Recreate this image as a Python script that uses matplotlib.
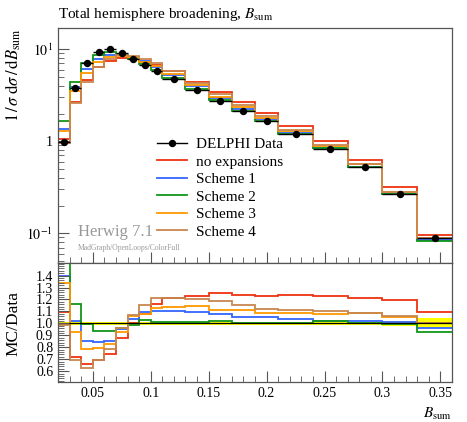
import numpy as np
import matplotlib
matplotlib.use("Agg")
import matplotlib.pyplot as plt
from matplotlib.ticker import MultipleLocator, FixedLocator, NullFormatter, LogLocator
from matplotlib.lines import Line2D

plt.rcParams['font.family'] = ['Liberation Serif', 'DejaVu Serif']
plt.rcParams['mathtext.fontset'] = 'stix'

# ---- data ----
edges = [0.02, 0.03, 0.04, 0.05, 0.06, 0.07, 0.08, 0.09, 0.10, 0.11, 0.13,
         0.15, 0.17, 0.19, 0.21, 0.24, 0.27, 0.30, 0.33, 0.36]
data = [0.97, 3.77, 7.05, 9.27, 10.0, 9.1, 7.85, 6.75, 5.8, 4.78, 3.6,
        2.72, 2.14, 1.66, 1.19, 0.82, 0.52, 0.265, 0.088]
data_relerr = [0.015, 0.015, 0.012, 0.012, 0.012, 0.012, 0.012, 0.012, 0.012, 0.012,
               0.012, 0.012, 0.012, 0.012, 0.012, 0.013, 0.015, 0.018, 0.042]

ratio_noexp = [1.094, 0.715, 0.66, 0.695, 0.745, 0.88, 1.0, 1.08, 1.16, 1.21, 1.233,
               1.253, 1.241, 1.23, 1.24, 1.233, 1.216, 1.199, 1.097]
ratio_s1 = [1.40, 1.023, 0.855, 0.845, 0.855, 0.955, 1.04, 1.096, 1.10, 1.10, 1.094,
            1.077, 1.057, 1.057, 1.034, 1.02, 1.017, 1.015, 0.962]
ratio_s2 = [1.71, 1.162, 0.995, 0.935, 0.94, 0.96, 0.99, 1.025, 1.015, 1.009, 1.015,
            1.023, 1.006, 1.006, 1.006, 1.02, 1.003, 0.997, 0.925]
ratio_s3 = [1.34, 0.93, 0.79, 0.793, 0.83, 0.93, 1.06, 1.08, 1.128, 1.133, 1.148,
            1.114, 1.114, 1.09, 1.09, 1.08, 1.083, 1.055, 1.0]
ratio_s4 = [0.99, 0.69, 0.63, 0.69, 0.79, 0.96, 1.07, 1.15, 1.21, 1.213, 1.207,
            1.19, 1.157, 1.12, 1.11, 1.10, 1.088, 1.06, 1.0]

labels = ["no expansions", "Scheme 1", "Scheme 2", "Scheme 3", "Scheme 4"]
colors = ["#EE3311", "#3366FF", "#109618", "#FF9900", "#C8874F"]
ratios = [ratio_noexp, ratio_s1, ratio_s2, ratio_s3, ratio_s4]

edges_a = np.array(edges)
data_a = np.array(data)
centers = 0.5 * (edges_a[1:] + edges_a[:-1])
halfw = 0.5 * (edges_a[1:] - edges_a[:-1])
err = data_a * np.array(data_relerr)

W, H = 467, 422
fig = plt.figure(figsize=(W / 100, H / 100), dpi=100)
L, R = 58 / W, 452 / W
main_b, main_t = 1 - 263 / H, 1 - 28 / H
rat_b = 1 - 382 / H
ax = fig.add_axes([L, main_b, R - L, main_t - main_b])
axr = fig.add_axes([L, rat_b, R - L, main_b - rat_b], sharex=ax)

frame_col = "#555555"
for a in (ax, axr):
    for s in a.spines.values():
        s.set_color(frame_col)
        s.set_linewidth(0.9)
    a.tick_params(which='both', direction='in', color=frame_col, top=False, right=False)
    a.tick_params(which='major', length=8, width=0.8, labelsize=10)
    a.tick_params(which='minor', length=4, width=0.6)

lw = 1.3
for r, c, lab in zip(ratios, colors, labels):
    mc = data_a * np.array(r)
    ax.stairs(mc, edges_a, baseline=None, color=c, lw=lw, label=lab)
    axr.stairs(r, edges_a, baseline=None, color=c, lw=lw)

ax.errorbar(centers, data_a, xerr=halfw, yerr=err, fmt='o', color='black',
            ms=4.3, lw=1.0, capsize=0, label="DELPHI Data", zorder=5)

ax.set_yscale('log')
ax.set_ylim(0.0475, 17.0)
ax.set_xlim(0.02, 0.36)
ax.yaxis.set_major_locator(FixedLocator([0.1, 1, 10]))
ax.set_yticklabels([r"$10^{-1}$", "1", r"$10^{1}$"])
ax.yaxis.set_minor_locator(LogLocator(base=10, subs=np.arange(2, 10), numticks=20))
ax.yaxis.set_minor_formatter(NullFormatter())
ax.xaxis.set_major_locator(MultipleLocator(0.05))
ax.xaxis.set_minor_locator(MultipleLocator(0.01))
plt.setp(ax.get_xticklabels(), visible=False)

fig.text(13.5 / W, 1 - 28 / H, r"$1\,/\,\sigma\;\mathrm{d}\sigma\,/\,\mathrm{d}B_{\mathrm{sum}}$",
         rotation=90, ha='center', va='top', fontsize=12)
ax.set_title(r"Total hemisphere broadening, $B_{\mathrm{sum}}$", fontsize=11, loc='left', pad=7)

hdl = [Line2D([], [], color='black', marker='o', ms=4.3, lw=1.0)] + \
      [Line2D([], [], color=c, lw=lw) for c in colors]
ax.legend(hdl, ["DELPHI Data"] + labels, loc='upper left', bbox_to_anchor=(0.251, 0.534),
          frameon=False, fontsize=11, handlelength=2.0, handletextpad=0.55,
          labelspacing=0.25, borderaxespad=0, borderpad=0)

ax.text(0.051, 0.115, "Herwig 7.1", transform=ax.transAxes, color="#999999", fontsize=12)
ax.text(0.051, 0.055, "MadGraph/OpenLoops/ColorFull", transform=ax.transAxes,
        color="#999999", fontsize=5.5)

# ratio panel
band_lo = 1 - np.array(data_relerr)
band_hi = 1 + np.array(data_relerr)
axr.stairs(band_hi, edges_a, baseline=band_lo, fill=True, color="#FFFF00", lw=0, zorder=0)
axr.axhline(1.0, color='black', lw=0.9, zorder=1)
axr.set_ylim(0.51, 1.505)
axr.yaxis.set_major_locator(FixedLocator([0.6, 0.7, 0.8, 0.9, 1.0, 1.1, 1.2, 1.3, 1.4]))
axr.yaxis.set_minor_locator(MultipleLocator(0.02))
axr.set_yticklabels(["0.6", "0.7", "0.8", "0.9", "1.0", "1.1", "1.2", "1.3", "1.4"])
axr.set_xticks([0.05, 0.1, 0.15, 0.2, 0.25, 0.3, 0.35])
axr.set_xticklabels(["0.05", "0.1", "0.15", "0.2", "0.25", "0.3", "0.35"])
axr.set_xlim(0.02, 0.36)
fig.text(13.5 / W, 1 - 323 / H, "MC/Data", rotation=90, ha='center', va='center', fontsize=12.5)
axr.set_xlabel(r"$B_{\mathrm{sum}}$", fontsize=11, loc='right')

fig.savefig("out.png", dpi=100)
